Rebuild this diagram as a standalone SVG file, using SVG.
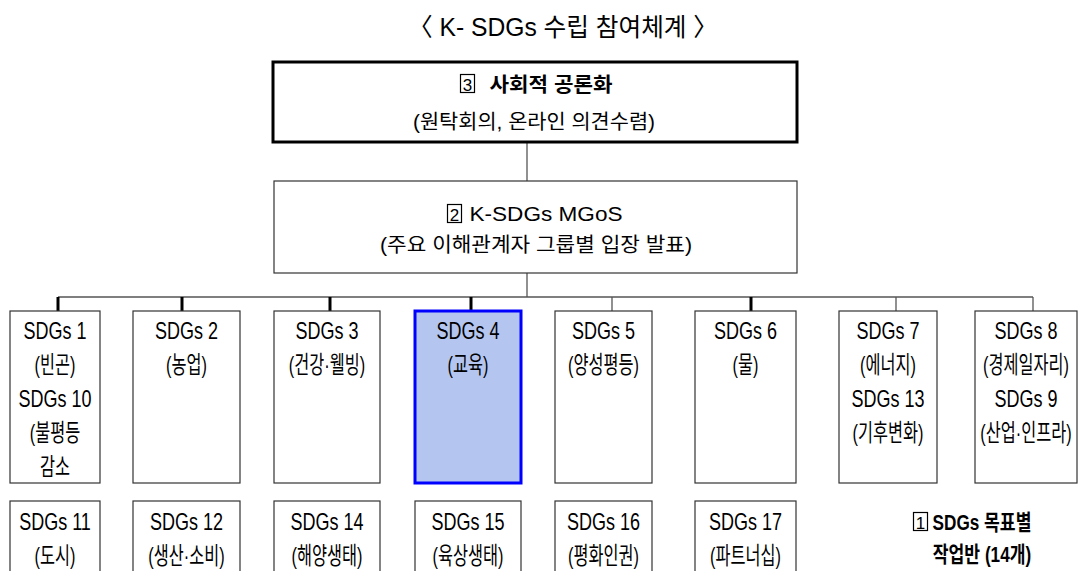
<svg xmlns="http://www.w3.org/2000/svg" width="1089" height="571" viewBox="0 0 1089 571">
<style>
text{font-family:"Liberation Sans","Noto Sans CJK KR",sans-serif;fill:#000;text-anchor:middle}
.t{font-size:25px}
.h{font-size:20px;font-weight:bold}
.s{font-size:20px}
.c{font-size:24px}
.cb{font-size:22px;font-weight:bold}
.box{fill:#fff;stroke:#333;stroke-width:1.2}
.top{fill:#fff;stroke:#000;stroke-width:3}
.sel{fill:#b4c6ef;stroke:#0000ff;stroke-width:3}
.ico{fill:none;stroke:#000;stroke-width:1.2}
.thin{stroke:#555;stroke-width:1.3;fill:none}
.thick{stroke:#000;stroke-width:3;fill:none}
</style>
<text id="title" class="t" x="563" y="36" textLength="310" lengthAdjust="spacingAndGlyphs">〈 K- SDGs 수립 참여체계 〉</text>
<g id="connectors">
<line class="thin" x1="527" y1="143" x2="527" y2="181"/>
<line class="thin" x1="527" y1="273" x2="527" y2="297"/>
<line class="thin" x1="58" y1="297" x2="1033" y2="297"/>
<line class="thick" x1="58" y1="297" x2="58" y2="311"/>
<line class="thick" x1="182" y1="297" x2="182" y2="311"/>
<line class="thick" x1="330" y1="297" x2="330" y2="311"/>
<line class="thick" x1="471" y1="297" x2="471" y2="311"/>
<line class="thin" x1="612" y1="297" x2="612" y2="311"/>
<line class="thick" x1="751" y1="297" x2="751" y2="311"/>
<line class="thin" x1="896" y1="297" x2="896" y2="311"/>
<line class="thin" x1="1033" y1="297" x2="1033" y2="311"/>
</g>
<g id="n3">
<rect class="top" x="273" y="62" width="524" height="80"/>
<rect class="ico" x="460.5" y="74.5" width="14" height="18"/>
<text class="s" x="467.5" y="91" style="font-size:17px">3</text>
<text class="h" x="551" y="92" textLength="123" lengthAdjust="spacingAndGlyphs">사회적 공론화</text>
<text class="s" x="534" y="129" textLength="242" lengthAdjust="spacingAndGlyphs">(원탁회의, 온라인 의견수렴)</text>
</g>
<g id="n2">
<rect class="box" x="274" y="181" width="523" height="92"/>
<rect class="ico" x="447.5" y="204.5" width="14" height="18"/>
<text class="s" x="454.5" y="221" style="font-size:17px">2</text>
<text class="s" x="546" y="221" textLength="153" lengthAdjust="spacingAndGlyphs">K-SDGs MGoS</text>
<text class="s" x="536" y="252" textLength="312" lengthAdjust="spacingAndGlyphs">(주요 이해관계자 그룹별 입장 발표)</text>
</g>
<g id="g1">
<rect class="box" x="10" y="311" width="90" height="172"/>
<text class="c" transform="translate(55 339) scale(0.75 1)">SDGs 1</text>
<text class="c" transform="translate(55 373) scale(0.68 1)">(빈곤)</text>
<text class="c" transform="translate(55 407) scale(0.75 1)">SDGs 10</text>
<text class="c" transform="translate(55 441) scale(0.68 1)">(불평등</text>
<text class="c" transform="translate(55 475) scale(0.68 1)">감소</text>
</g>
<g id="g2">
<rect class="box" x="133" y="311" width="107" height="172"/>
<text class="c" transform="translate(186.5 339) scale(0.75 1)">SDGs 2</text>
<text class="c" transform="translate(186.5 373) scale(0.68 1)">(농업)</text>
</g>
<g id="g3">
<rect class="box" x="274" y="311" width="106" height="172"/>
<text class="c" transform="translate(327 339) scale(0.75 1)">SDGs 3</text>
<text class="c" transform="translate(327 373) scale(0.68 1)">(건강·웰빙)</text>
</g>
<g id="g4">
<rect class="sel" x="415" y="311" width="106" height="172"/>
<text class="c" transform="translate(468 339) scale(0.75 1)">SDGs 4</text>
<text class="c" transform="translate(468 373) scale(0.68 1)">(교육)</text>
</g>
<g id="g5">
<rect class="box" x="555" y="311" width="97" height="172"/>
<text class="c" transform="translate(603.5 339) scale(0.75 1)">SDGs 5</text>
<text class="c" transform="translate(603.5 373) scale(0.68 1)">(양성평등)</text>
</g>
<g id="g6">
<rect class="box" x="695" y="311" width="101" height="172"/>
<text class="c" transform="translate(745.5 339) scale(0.75 1)">SDGs 6</text>
<text class="c" transform="translate(745.5 373) scale(0.68 1)">(물)</text>
</g>
<g id="g7">
<rect class="box" x="839" y="311" width="98" height="172"/>
<text class="c" transform="translate(888 339) scale(0.75 1)">SDGs 7</text>
<text class="c" transform="translate(888 373) scale(0.68 1)">(에너지)</text>
<text class="c" transform="translate(888 407) scale(0.75 1)">SDGs 13</text>
<text class="c" transform="translate(888 441) scale(0.68 1)">(기후변화)</text>
</g>
<g id="g8">
<rect class="box" x="975" y="311" width="102" height="172"/>
<text class="c" transform="translate(1026 339) scale(0.75 1)">SDGs 8</text>
<text class="c" transform="translate(1026 373) scale(0.68 1)">(경제일자리)</text>
<text class="c" transform="translate(1026 407) scale(0.75 1)">SDGs 9</text>
<text class="c" transform="translate(1026 441) scale(0.68 1)">(산업·인프라)</text>
</g>
<g id="g11">
<rect class="box" x="10" y="501" width="90" height="80"/>
<text class="c" transform="translate(55 530) scale(0.75 1)">SDGs 11</text>
<text class="c" transform="translate(55 564) scale(0.68 1)">(도시)</text>
</g>
<g id="g12">
<rect class="box" x="133" y="501" width="107" height="80"/>
<text class="c" transform="translate(186.5 530) scale(0.75 1)">SDGs 12</text>
<text class="c" transform="translate(186.5 564) scale(0.68 1)">(생산·소비)</text>
</g>
<g id="g14">
<rect class="box" x="274" y="501" width="106" height="80"/>
<text class="c" transform="translate(327 530) scale(0.75 1)">SDGs 14</text>
<text class="c" transform="translate(327 564) scale(0.68 1)">(해양생태)</text>
</g>
<g id="g15">
<rect class="box" x="415" y="501" width="106" height="80"/>
<text class="c" transform="translate(468 530) scale(0.75 1)">SDGs 15</text>
<text class="c" transform="translate(468 564) scale(0.68 1)">(육상생태)</text>
</g>
<g id="g16">
<rect class="box" x="555" y="501" width="97" height="80"/>
<text class="c" transform="translate(603.5 530) scale(0.75 1)">SDGs 16</text>
<text class="c" transform="translate(603.5 564) scale(0.68 1)">(평화인권)</text>
</g>
<g id="g17">
<rect class="box" x="695" y="501" width="101" height="80"/>
<text class="c" transform="translate(745.5 530) scale(0.75 1)">SDGs 17</text>
<text class="c" transform="translate(745.5 564) scale(0.68 1)">(파트너십)</text>
</g>
<g id="n1">
<rect class="ico" x="913.5" y="512.5" width="14" height="18"/>
<text class="s" x="920.5" y="529" style="font-size:17px">1</text>
<text class="cb" transform="translate(982 530) scale(0.78 1)">SDGs 목표별</text>
<text class="cb" transform="translate(982 562) scale(0.78 1)">작업반 (14개)</text>
</g>
</svg>
